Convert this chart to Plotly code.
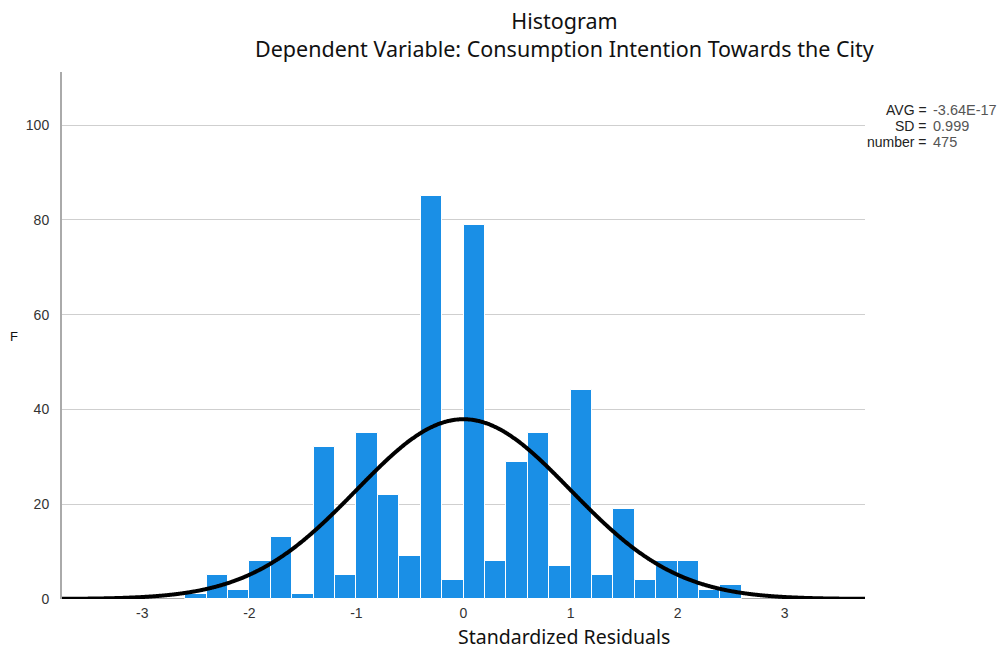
import numpy as np
import plotly.graph_objects as go

# ---- data ----
bin_left_edge = -2.6
bin_width = 0.2
counts = [1, 5, 2, 8, 13, 1, 32, 5, 35, 22, 9, 85, 4, 79, 8, 29, 35, 7, 44, 5, 19, 4, 8, 8, 2, 3]
stat_mean = -3.64e-17
stat_sd = 0.999
stat_n = 475
stat_labels = ["AVG =", "SD =", "number ="]
stat_values = ["-3.64E-17", "0.999", "475"]
x_ticks = [-3, -2, -1, 0, 1, 2, 3]
y_ticks = [0, 20, 40, 60, 80, 100]
title_lines = ["Histogram", "Dependent Variable: Consumption Intention Towards the City"]

centers = [round(bin_left_edge + bin_width * (i + 0.5), 3) for i in range(len(counts))]

# normal curve defined by the displayed mean/SD/N
xc = np.linspace(-3.75, 3.75, 600)
yc = stat_n * bin_width * np.exp(-0.5 * ((xc - stat_mean) / stat_sd) ** 2) / (stat_sd * np.sqrt(2 * np.pi))

fig = go.Figure()
fig.add_trace(go.Bar(x=centers, y=counts, width=bin_width,
                     marker=dict(color="#1A8FE6", line=dict(color="white", width=1)),
                     showlegend=False, hoverinfo="x+y"))
fig.add_trace(go.Scatter(x=xc, y=yc, mode="lines",
                         line=dict(color="black", width=4, shape="spline"), showlegend=False))

OFF = 8  # page body margin
W, H = 1005 - 2 * OFF, 652 - 2 * OFF
PL, PR, PT, PB = 62, 865, 72, 599  # plot area in page pixels
L, R, T, B = PL - OFF, W - (PR - OFF), PT - OFF, H - (PB - OFF)
pw, ph = PR - PL, PB - PT

def px(xp):
    return (xp - PL) / pw

def py(yp):
    return (PB - yp) / ph

annots = [
    dict(text="<br>".join(title_lines), x=px(564), y=py(35), xanchor="center", align="center",
         font=dict(family="Noto Sans", size=21.5, color="#111111")),
    dict(text="Standardized Residuals", x=px(564), y=py(636), xanchor="center",
         font=dict(family="Noto Sans", size=19.5, color="#111111")),
    dict(text="F", x=px(14), y=py(336), xanchor="center",
         font=dict(family="Liberation Sans, Arial", size=13, color="#111111")),
]
for i, (lab, val) in enumerate(zip(stat_labels, stat_values)):
    yy = 110 + 16 * i
    annots.append(dict(text=lab, x=px(929), y=py(yy), xanchor="right",
                       font=dict(family="Liberation Sans, Arial", size=14, color="#222222")))
    annots.append(dict(text=val, x=px(931), y=py(yy), xanchor="left",
                       font=dict(family="Liberation Sans, Arial", size=14.5, color="#555555")))
for a in annots:
    a.update(xref="paper", yref="paper", showarrow=False)
    a.setdefault("yanchor", "middle")

fig.update_layout(
    width=W, height=H,
    margin=dict(l=L, r=R, t=T, b=B),
    plot_bgcolor="white", paper_bgcolor="white",
    bargap=0,
    xaxis=dict(range=[-3.75, 3.75], tickvals=x_ticks, ticktext=[str(v) for v in x_ticks],
               showgrid=False, zeroline=False, showline=False,
               tickfont=dict(family="Liberation Sans, Arial", size=14, color="#333333"),
               ticks="", ticklabelstandoff=4),
    yaxis=dict(range=[0, 111.2], tickvals=y_ticks, showgrid=True, gridcolor="#CFCFCF", gridwidth=1,
               zeroline=False, showline=True, linecolor="#AAAAAA", linewidth=2,
               tickfont=dict(family="Liberation Sans, Arial", size=14, color="#333333"),
               ticks="", ticklabelstandoff=8),
    annotations=annots,
)
fig.add_shape(type="line", xref="x", yref="y", x0=-3.75, x1=3.75, y0=0, y1=0,
              line=dict(color="#AAAAAA", width=2), layer="below")

fig.write_html("out.html")
